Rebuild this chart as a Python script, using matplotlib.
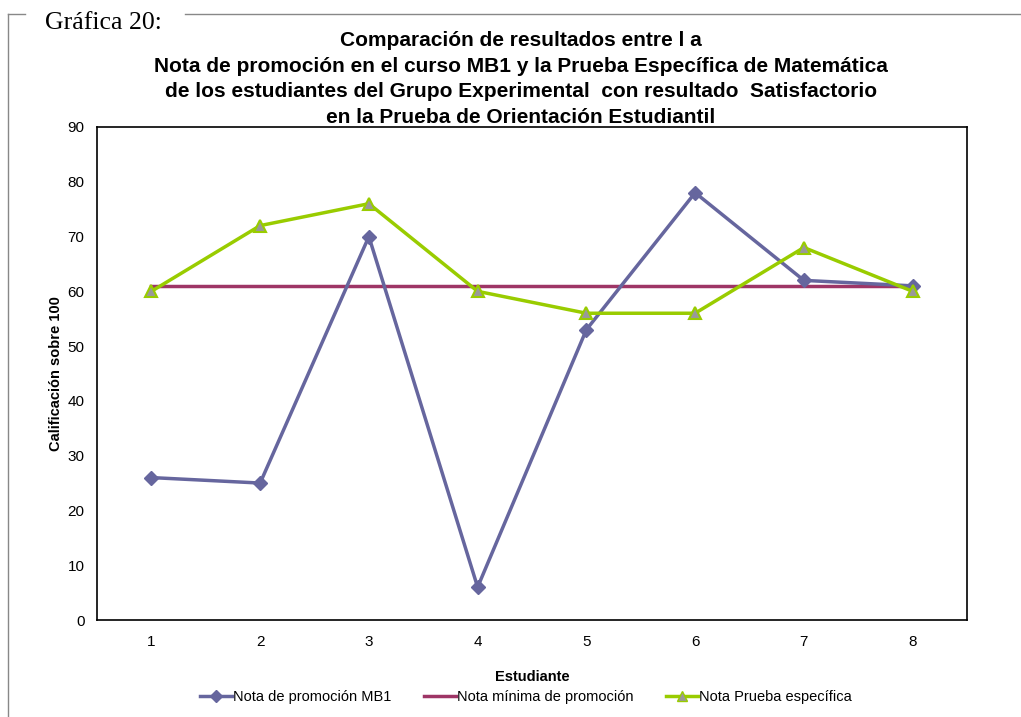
import matplotlib
matplotlib.use("Agg")
import matplotlib.pyplot as plt
from matplotlib.lines import Line2D

estudiantes = [1, 2, 3, 4, 5, 6, 7, 8]
nota_mb1 = [26, 25, 70, 6, 53, 78, 62, 61]
nota_minima = [61, 61, 61, 61, 61, 61, 61, 61]
nota_prueba = [60, 72, 76, 60, 56, 56, 68, 60]

AZUL = "#66669E"; VINO = "#9E3566"; VERDE = "#99CC00"; GRIS = "#999999"

plt.rcParams["font.family"] = ["Liberation Sans", "DejaVu Sans"]

fig = plt.figure(figsize=(10.21, 7.17), dpi=100)
ax = fig.add_axes([97/1021, 1-620/717, 870/1021, 493/717])

ax.plot(estudiantes, nota_mb1, "-D", color=AZUL, lw=2.5, ms=7, zorder=3,
        label="Nota de promoción MB1")
ax.plot(estudiantes, nota_minima, "-", color=VINO, lw=2.5, zorder=2,
        label="Nota mínima de promoción")
ax.plot(estudiantes, nota_prueba, "-^", color=VERDE, lw=2.5, ms=9, mfc=GRIS,
        mec=VERDE, mew=1.5, zorder=3, label="Nota Prueba específica")

ax.set_xlim(0.5, 8.5); ax.set_ylim(0, 90)
ax.set_xticks(estudiantes); ax.set_yticks(range(0, 91, 10))
ax.tick_params(labelsize=11, length=0)
ax.tick_params(axis="y", pad=9)
ax.tick_params(axis="x", pad=11)
for s in ax.spines.values():
    s.set_linewidth(1.2); s.set_color("black")
ax.set_xlabel("Estudiante", fontsize=10.5, fontweight="bold", labelpad=15)
ax.set_ylabel("Calificación sobre 100", fontsize=10.5, fontweight="bold", labelpad=3)

fig.text(0.51, 1-31/717,
         "Comparación de resultados entre l a\n"
         "Nota de promoción en el curso MB1 y la Prueba Específica de Matemática\n"
         "de los estudiantes del Grupo Experimental  con resultado  Satisfactorio\n"
         "en la Prueba de Orientación Estudiantil",
         ha="center", va="top", fontsize=15, fontweight="bold", linespacing=1.44)

handles = [Line2D([], [], color=AZUL, lw=2.5, marker="D", ms=6),
           Line2D([], [], color=VINO, lw=2.5),
           Line2D([], [], color=VERDE, lw=2.5, marker="^", ms=7, mfc=GRIS, mec=VERDE)]
fig.legend(handles, ["Nota de promoción MB1", "Nota mínima de promoción", "Nota Prueba específica"],
           loc="center", bbox_to_anchor=(0.515, 1-697/717), ncol=3, frameon=False,
           fontsize=10.5, handlelength=2.2, handletextpad=0.1, columnspacing=2.2)

# marco de la gráfica
fig.add_artist(Line2D([8/1021, 8/1021], [0, 1-14/717], color="#888888", lw=1,
                      transform=fig.transFigure))
fig.add_artist(Line2D([8/1021, 25/1021], [1-14/717, 1-14/717], color="#888888", lw=1,
                      transform=fig.transFigure))
fig.add_artist(Line2D([185/1021, 1], [1-14/717, 1-14/717], color="#888888", lw=1,
                      transform=fig.transFigure))
fig.text(45/1021, 1-23/717, "Gráfica 20:", family=["Liberation Serif", "DejaVu Serif"],
         fontsize=18.5, ha="left", va="center")

fig.savefig("out.png", dpi=100, facecolor="white")
